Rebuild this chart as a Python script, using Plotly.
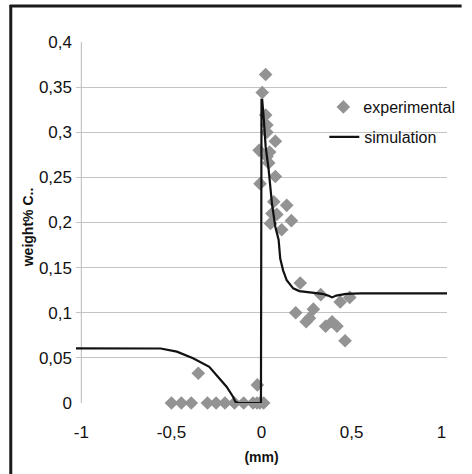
import plotly.graph_objects as go

# experimental data (mm, weight% C)
exp_x = [-0.50, -0.445, -0.39, -0.351, -0.30, -0.252, -0.203, -0.15, -0.099, -0.047,
         -0.025, -0.009, 0.012, -0.023, -0.008, -0.013, 0.004, 0.023, 0.023, 0.03,
         0.03, 0.077, 0.03, 0.04, 0.045, 0.077, 0.068, 0.14, 0.058, 0.05, 0.166,
         0.112, 0.085, 0.215, 0.329, 0.437, 0.49, 0.19, 0.288, 0.248, 0.266, 0.356,
         0.392, 0.419, 0.464]
exp_y = [0.0, 0.0, 0.0, 0.033, 0.0, 0.0, 0.0, 0.0, 0.0, 0.0,
         0.0, 0.0, 0.0, 0.02, 0.243, 0.28, 0.344, 0.364, 0.319, 0.308,
         0.30, 0.29, 0.273, 0.266, 0.278, 0.251, 0.223, 0.219, 0.21, 0.199, 0.202,
         0.192, 0.209, 0.133, 0.12, 0.112, 0.117, 0.10, 0.104, 0.09, 0.094, 0.085,
         0.09, 0.085, 0.069]

# simulation curve
sim_x = [-1.03, -0.60, -0.56, -0.47, -0.38, -0.29, -0.24, -0.194, -0.158, -0.145,
         -0.13, -0.003, 0.0, 0.004, 0.013, 0.023, 0.04, 0.058, 0.077, 0.095,
         0.104, 0.12, 0.14, 0.176, 0.21, 0.248, 0.30, 0.338, 0.37, 0.392, 0.415,
         0.437, 0.47, 0.55, 1.03]
sim_y = [0.0606, 0.0606, 0.0604, 0.0569, 0.0495, 0.040, 0.029, 0.018, 0.007, 0.0015,
         0.0, 0.0, 0.336, 0.336, 0.314, 0.284, 0.258, 0.221, 0.195, 0.181,
         0.160, 0.147, 0.136, 0.127, 0.124, 0.123, 0.1215, 0.121, 0.119, 0.117, 0.119,
         0.120, 0.121, 0.1215, 0.1215]

x_ticks = [-1, -0.5, 0, 0.5, 1]
x_tick_labels = ["-1", "-0,5", "0", "0,5", "1"]
y_ticks = [0, 0.05, 0.1, 0.15, 0.2, 0.25, 0.3, 0.35, 0.4]
y_tick_labels = ["0", "0,05", "0,1", "0,15", "0,2", "0,25", "0,3", "0,35", "0,4"]

W, H = 472, 474
L, R, T, B = 76, 15, 42, 71
PW, PH = W - L - R, H - T - B

FONT = "Liberation Sans, Arial, sans-serif"


def px2paper_x(px):
    return (px - L) / PW


def px2paper_y(py):
    return (H - B - py) / PH


fig = go.Figure()
fig.add_trace(go.Scatter(
    x=exp_x, y=exp_y, mode="markers", name="experimental",
    marker=dict(symbol="diamond", size=10.5, color="#939393"),
    cliponaxis=False, legend="legend"))
fig.add_trace(go.Scatter(
    x=sim_x, y=sim_y, mode="lines", name="simulation",
    line=dict(color="#111111", width=2.2), legend="legend2"))

# left gray axis line at x = -1
fig.add_shape(type="line", xref="x", yref="y", x0=-1, x1=-1, y0=0, y1=0.4,
              line=dict(color="#c4c4c4", width=1.2), layer="between")
# outer black frame (left and top edges visible)
fig.add_shape(type="line", xref="paper", yref="paper",
              x0=px2paper_x(9), x1=px2paper_x(9), y0=px2paper_y(5), y1=px2paper_y(474),
              line=dict(color="#1a1a1a", width=3))
fig.add_shape(type="line", xref="paper", yref="paper",
              x0=px2paper_x(8), x1=px2paper_x(472), y0=px2paper_y(6), y1=px2paper_y(6),
              line=dict(color="#1a1a1a", width=3))

# y-axis title
fig.add_annotation(xref="paper", yref="paper", x=px2paper_x(27), y=px2paper_y(227),
                   text="<b>weight% C..</b>", textangle=-90, showarrow=False,
                   font=dict(size=14, family=FONT, color="#111111"),
                   xanchor="center", yanchor="middle")

fig.update_layout(
    width=W, height=H,
    margin=dict(l=L, r=R, t=T, b=B),
    paper_bgcolor="white", plot_bgcolor="rgba(0,0,0,0)",
    font=dict(family=FONT, color="#111111", size=17),
    legend=dict(x=px2paper_x(330), y=px2paper_y(90), xanchor="left", yanchor="top",
                bgcolor="rgba(0,0,0,0)", font=dict(size=16), itemwidth=30),
    legend2=dict(x=px2paper_x(331), y=px2paper_y(120), xanchor="left", yanchor="top",
                 bgcolor="rgba(0,0,0,0)", font=dict(size=16), itemwidth=30),
    xaxis=dict(range=[-1.03, 1.03], tickvals=x_ticks, ticktext=x_tick_labels,
               showgrid=False, zeroline=False, showline=False, ticks="",
               ticklabelstandoff=17,
               title=dict(text="<b>(mm)</b>", font=dict(size=14), standoff=11)),
    yaxis=dict(range=[0, 0.4], tickvals=y_ticks, ticktext=y_tick_labels,
               showgrid=True, gridcolor="#c4c4c4", gridwidth=1.2,
               zeroline=False, showline=False, ticks="",
               ticklabelstandoff=3),
    showlegend=True,
)

fig.write_html("out.html", config={"displayModeBar": False},
               post_script="document.body.style.margin='0';")
